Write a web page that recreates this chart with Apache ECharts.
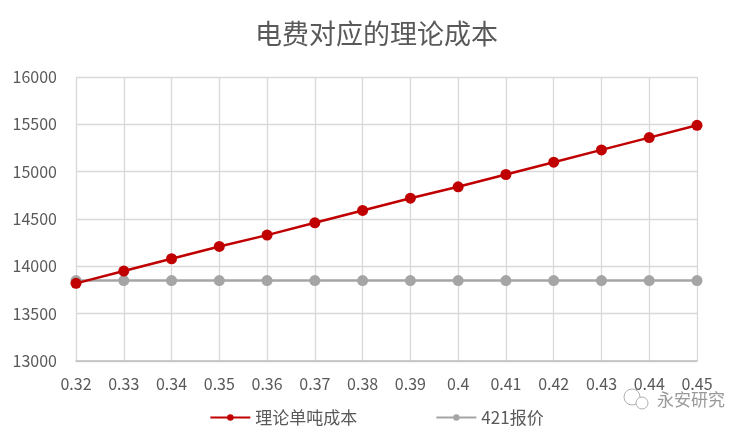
<!DOCTYPE html>
<html><head><meta charset="utf-8">
<script src="https://cdn.jsdelivr.net/npm/echarts@6/dist/echarts.min.js"></script>
<style>html,body{margin:0;padding:0;background:#fff}#c{width:753px;height:433px}</style>
</head><body><div id="c"></div>
<script>
var categories = ['0.32','0.33','0.34','0.35','0.36','0.37','0.38','0.39','0.4','0.41','0.42','0.43','0.44','0.45'];
var costSeries = [13820,13950,14080,14210,14330,14460,14590,14720,14840,14970,15100,15230,15360,15490];
var quoteSeries = [13850,13850,13850,13850,13850,13850,13850,13850,13850,13850,13850,13850,13850,13850];
var costName = '理论单吨成本';
var quoteName = '421报价';
var titleText = '电费对应的理论成本';
var font = '"Microsoft YaHei","Noto Sans CJK SC","Noto Sans",sans-serif';
var chart = echarts.init(document.getElementById('c'));
chart.setOption({
  animation:false,
  backgroundColor:'#fff',
  title:{text:titleText,left:'center',top:15,textStyle:{fontFamily:font,fontSize:27,fontWeight:'normal',color:'#595959'}},
  grid:{left:76,right:56,top:77,bottom:72},
  legend:{top:404,left:'center',itemGap:78,itemWidth:40,itemHeight:8,
    textStyle:{fontFamily:font,fontSize:17,color:'#595959'},
    data:[{name:costName},{name:quoteName}]},
  xAxis:{type:'category',data:categories,boundaryGap:false,
    axisLine:{lineStyle:{color:'#bfbfbf',width:1.5}},axisTick:{show:false},
    axisLabel:{fontFamily:font,fontSize:16,color:'#595959',margin:15},
    splitLine:{show:true,lineStyle:{color:'#d9d9d9',width:1.3}}},
  yAxis:{type:'value',min:13000,max:16000,interval:500,
    axisLine:{show:false},axisTick:{show:false},
    axisLabel:{fontFamily:font,fontSize:16,color:'#595959',margin:19,formatter:function(v){return String(v);}},
    splitLine:{lineStyle:{color:'#d9d9d9',width:1.3}}},
  series:[
    {name:costName,type:'line',data:costSeries,symbol:'circle',symbolSize:11,
     lineStyle:{color:'#c00000',width:2.5},itemStyle:{color:'#c00000'},z:3},
    {name:quoteName,type:'line',data:quoteSeries,symbol:'circle',symbolSize:11,
     lineStyle:{color:'#a5a5a5',width:2.5},itemStyle:{color:'#a5a5a5'},z:2}
  ],
  graphic:[
    {type:'text',left:657,top:391,style:{text:'永安研究',fontFamily:font,fontSize:17,fill:'#999999'}},
    {type:'circle',shape:{cx:632,cy:397,r:8},style:{fill:'none',stroke:'#b0b0b0',lineWidth:1}},
    {type:'circle',shape:{cx:642,cy:403,r:6},style:{fill:'#fff',stroke:'#b0b0b0',lineWidth:1}}
  ]
});
</script></body></html>
